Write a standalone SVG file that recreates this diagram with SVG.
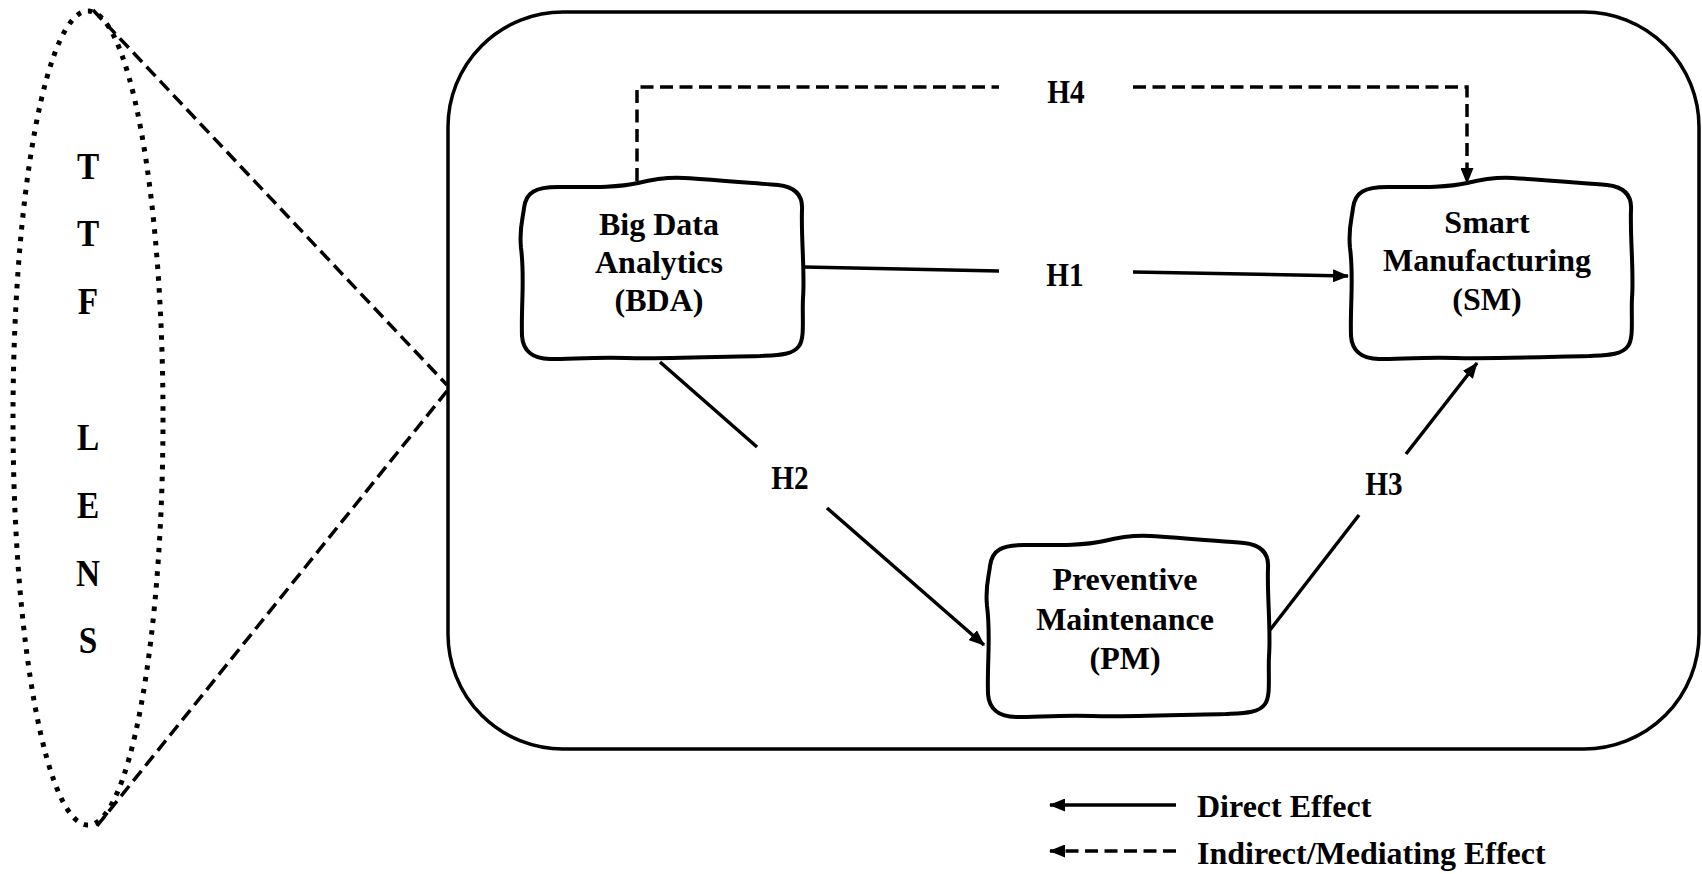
<svg xmlns="http://www.w3.org/2000/svg" xmlns:xlink="http://www.w3.org/1999/xlink" width="1702" height="874" viewBox="0 0 1702 874">
<style>
.txt{font-family:"Liberation Serif","Times New Roman",serif;font-weight:bold;fill:#000;}
.node-text{font-size:32px;text-anchor:middle;}
.lbl{font-size:34px;text-anchor:middle;}
.box{fill:#fff;stroke:#000;stroke-width:4;stroke-linejoin:round;}
.solid{fill:none;stroke:#000;stroke-width:3.5;}
.dash{fill:none;stroke:#000;stroke-width:3.5;stroke-dasharray:13 6.5;}
</style>
<defs>
<marker id="arr" markerUnits="userSpaceOnUse" markerWidth="16" markerHeight="13" refX="15" refY="6.5" orient="auto">
<path d="M0,0 L16,6.5 L0,13 Z" fill="#000"/>
</marker>
<path id="blob" d="M 8,30 C 10,14 20,9 42,9 C 70,9 100,10 122,5 C 138,1 150,-1 168,0 C 200,2 235,5 262,7 C 280,9 287,18 286,32 C 285,60 289,95 287,120 C 286,140 289,160 283,168 C 277,177 262,177 244,178 C 200,179 150,181 110,180 C 80,179 55,181 34,181 C 16,181 7,172 6,158 C 5,125 9,100 5,70 C 3,50 7,40 8,30 Z"/>
</defs>
<rect width="1702" height="874" fill="#fff"/>

<g id="ttf-lens">
<ellipse cx="88" cy="418" rx="75" ry="407" fill="none" stroke="#000" stroke-width="5" stroke-dasharray="4.5 7.3"/>
<line x1="93" y1="10" x2="447" y2="385" class="dash"/>
<line x1="447" y1="391" x2="97" y2="826" class="dash"/>
<g class="txt" font-size="37" text-anchor="middle" transform="translate(88,0) scale(0.9,1) translate(-88,0)">
<text x="88" y="179">T</text>
<text x="88" y="246">T</text>
<text x="88" y="314">F</text>
<text x="88" y="450">L</text>
<text x="88" y="518">E</text>
<text x="88" y="586">N</text>
<text x="88" y="653">S</text>
</g>
</g>

<g id="frame">
<rect x="448" y="12" width="1251" height="737" rx="115" ry="115" fill="none" stroke="#000" stroke-width="3.5"/>
</g>

<g id="connectors">
<path d="M637,181 V87 H999" class="dash"/>
<path d="M1133,87 H1467 V183" class="dash" marker-end="url(#arr)"/>
<path d="M804,267 L999,271" class="solid"/>
<path d="M1133,272 L1348,276" class="solid" marker-end="url(#arr)"/>
<path d="M660,362 L757,447" class="solid"/>
<path d="M827,508 L984,645" class="solid" marker-end="url(#arr)"/>
<path d="M1270,630 L1359,515" class="solid"/>
<path d="M1406,454 L1477,363" class="solid" marker-end="url(#arr)"/>
</g>

<g id="labels" class="txt lbl">
<text transform="translate(1066,103) scale(0.86,1)">H4</text>
<text transform="translate(1065,286) scale(0.86,1)">H1</text>
<text transform="translate(790,489) scale(0.86,1)">H2</text>
<text transform="translate(1384,495) scale(0.86,1)">H3</text>
</g>

<g id="node-bda">
<use xlink:href="#blob" href="#blob" class="box" transform="translate(516,178)"/>
<text class="txt node-text" x="659" y="235">Big Data</text>
<text class="txt node-text" x="659" y="273">Analytics</text>
<text class="txt node-text" x="659" y="311">(BDA)</text>
</g>

<g id="node-sm">
<use xlink:href="#blob" href="#blob" class="box" transform="translate(1345,178)"/>
<text class="txt node-text" x="1487" y="233">Smart</text>
<text class="txt node-text" x="1487" y="271">Manufacturing</text>
<text class="txt node-text" x="1487" y="310">(SM)</text>
</g>

<g id="node-pm">
<use xlink:href="#blob" href="#blob" class="box" transform="translate(982,536)"/>
<text class="txt node-text" x="1125" y="590">Preventive</text>
<text class="txt node-text" x="1125" y="630">Maintenance</text>
<text class="txt node-text" x="1125" y="669">(PM)</text>
</g>

<g id="legend">
<path d="M1176,805 L1050,805" class="solid" marker-end="url(#arr)"/>
<path d="M1176,851 L1050,851" class="dash" marker-end="url(#arr)"/>
<text class="txt" font-size="32" x="1197" y="817">Direct Effect</text>
<text class="txt" font-size="32" x="1197" y="864">Indirect/Mediating Effect</text>
</g>
</svg>
